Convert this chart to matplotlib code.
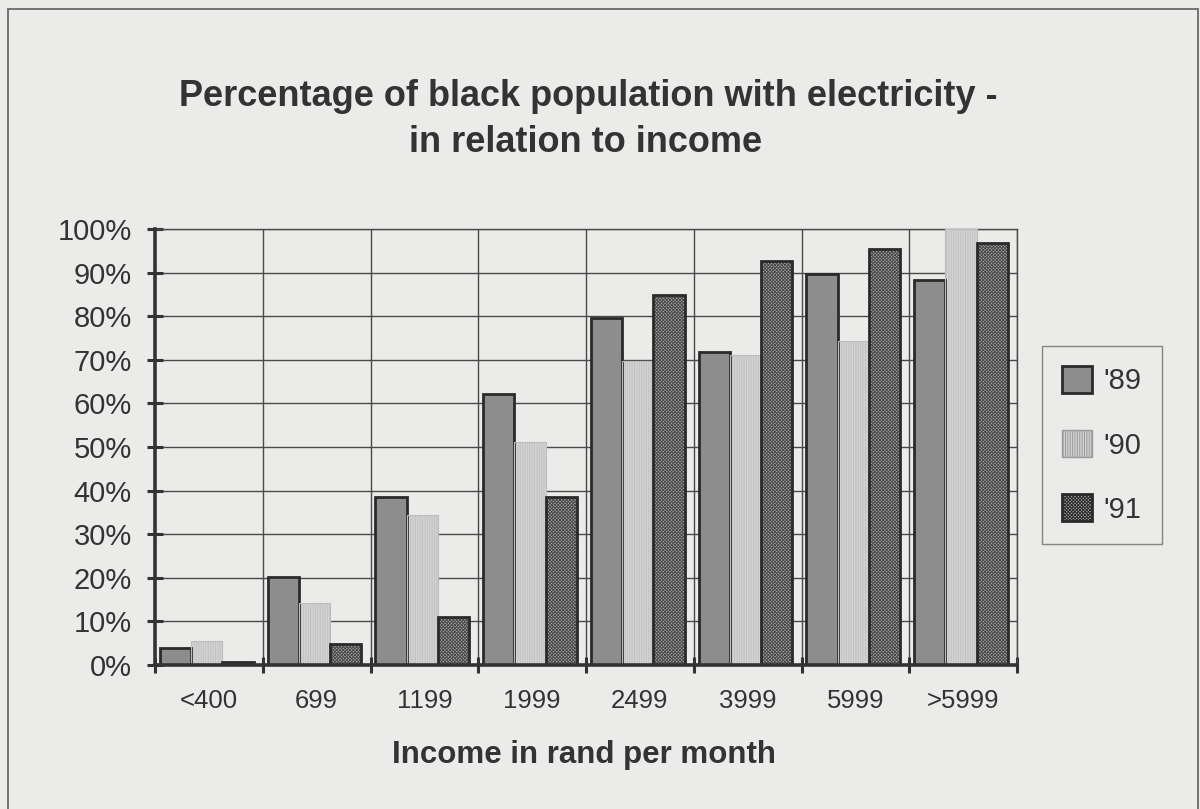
import matplotlib
matplotlib.use("Agg")
import matplotlib.pyplot as plt
import numpy as np
from matplotlib.patches import Rectangle, Patch

plt.rcParams['font.family'] = ['Liberation Sans', 'DejaVu Sans']

# Data
income_bands = ['<400', '699', '1199', '1999', '2499', '3999', '5999', '>5999']
years = ["'89", "'90", "'91"]
pct_89 = [3.9, 20.2, 38.5, 62.2, 79.6, 71.7, 89.7, 88.2]
pct_90 = [5.5, 14.2, 34.4, 51.2, 69.7, 71.1, 74.4, 100.0]
pct_91 = [0.8, 4.8, 11.0, 38.5, 84.9, 92.7, 95.5, 96.8]
y_ticks = [0, 10, 20, 30, 40, 50, 60, 70, 80, 90, 100]

BG = '#ebebea'
INK = '#333333'

fig = plt.figure(figsize=(12, 8.09), dpi=100, facecolor=BG)
ax = fig.add_axes([155 / 1200, 1 - 665 / 809, (1017 - 155) / 1200, (665 - 229) / 809])
ax.set_facecolor(BG)

x = np.arange(len(income_bands))
w = 0.29
offsets = [-w, 0, w]

styles = [
    dict(face='#8d8d8d', hatch=None, hatch_col=None, edge='#2a2a2a', lw=2.0),
    dict(face='#d3d3d3', hatch='|||||||', hatch_col='#c2c2c2', edge='#bdbdbd', lw=0.8),
    dict(face='#a8a8a8', hatch='xxxxxxxxxx', hatch_col='#4a4a4a', edge='#2a2a2a', lw=2.0),
]
series = [pct_89, pct_90, pct_91]

plt.rcParams['hatch.linewidth'] = 0.7
for vals, off, st in zip(series, offsets, styles):
    # fill (with optional texture)
    ax.bar(x + off - 0.02, vals, width=w, color=st['face'], hatch=st['hatch'],
           edgecolor=st['hatch_col'] if st['hatch'] else st['face'], linewidth=0, zorder=3)
    # outline
    ax.bar(x + off - 0.02, vals, width=w, fill=False, edgecolor=st['edge'],
           linewidth=st['lw'], zorder=4)

ax.set_xlim(-0.5, len(income_bands) - 0.5)
ax.set_ylim(0, 100)

# gridlines at category boundaries and at every 10%
bounds = np.arange(-0.5, len(income_bands), 1.0)
for b in bounds[1:]:
    ax.axvline(b, color='#4a4a4a', lw=1.0, zorder=1)
for t in y_ticks[1:]:
    ax.axhline(t, color='#4a4a4a', lw=1.0, zorder=1)

ax.set_yticks(y_ticks)
ax.set_yticklabels([f'{t}%' for t in y_ticks], fontsize=21, color=INK)
ax.tick_params(axis='y', direction='inout', length=11.5, width=2.2, color=INK, pad=11)

ax.set_xticks(bounds, minor=False)
ax.set_xticklabels([])
ax.tick_params(axis='x', which='major', direction='inout', length=11, width=2.2, color=INK)
ax.set_xticks(x, minor=True)
ax.set_xticklabels(income_bands, minor=True, fontsize=18.5, color=INK)
ax.tick_params(axis='x', which='minor', length=0, pad=17)

for side in ['left', 'bottom']:
    ax.spines[side].set_linewidth(2.6)
    ax.spines[side].set_color(INK)
    ax.spines[side].set_zorder(5)
for side in ['top', 'right']:
    ax.spines[side].set_linewidth(1.0)
    ax.spines[side].set_color('#4a4a4a')

# Title and axis label
fig.text(588 / 1200, 1 - 106 / 809, 'Percentage of black population with electricity -',
         ha='center', va='baseline', fontsize=26, fontweight='bold', color=INK)
fig.text(586 / 1200, 1 - 152 / 809, 'in relation to income',
         ha='center', va='baseline', fontsize=26, fontweight='bold', color=INK)
fig.text(584 / 1200, 1 - 763 / 809, 'Income in rand per month',
         ha='center', va='baseline', fontsize=22.5, fontweight='bold', color=INK)

# Legend
handles = []
for st in styles:
    handles.append(Patch(facecolor=st['face'], hatch=st['hatch'],
                         edgecolor=st['edge'] if st['lw'] > 1 else '#9a9a9a',
                         linewidth=2.0 if st['lw'] > 1 else 1.0))
leg = fig.legend(handles, years, loc='upper left',
                 bbox_to_anchor=(1042 / 1200, 1 - 346 / 809),
                 fontsize=21, frameon=True, fancybox=False,
                 handlelength=1.0, handleheight=1.0, handletextpad=0.4,
                 labelspacing=1.2, borderpad=0.7, borderaxespad=0)
leg.get_frame().set_facecolor(BG)
leg.get_frame().set_edgecolor('#6a6a6a')
leg.get_frame().set_linewidth(1.0)
for t in leg.get_texts():
    t.set_color(INK)

# Outer frame
fig.patches.append(Rectangle((8 / 1200, -0.02), 1190 / 1200, 1.02 - 9.5 / 809,
                             transform=fig.transFigure, fill=False,
                             edgecolor='#6a6a6a', linewidth=1.3))

fig.savefig('out.png', dpi=100, facecolor=BG)
